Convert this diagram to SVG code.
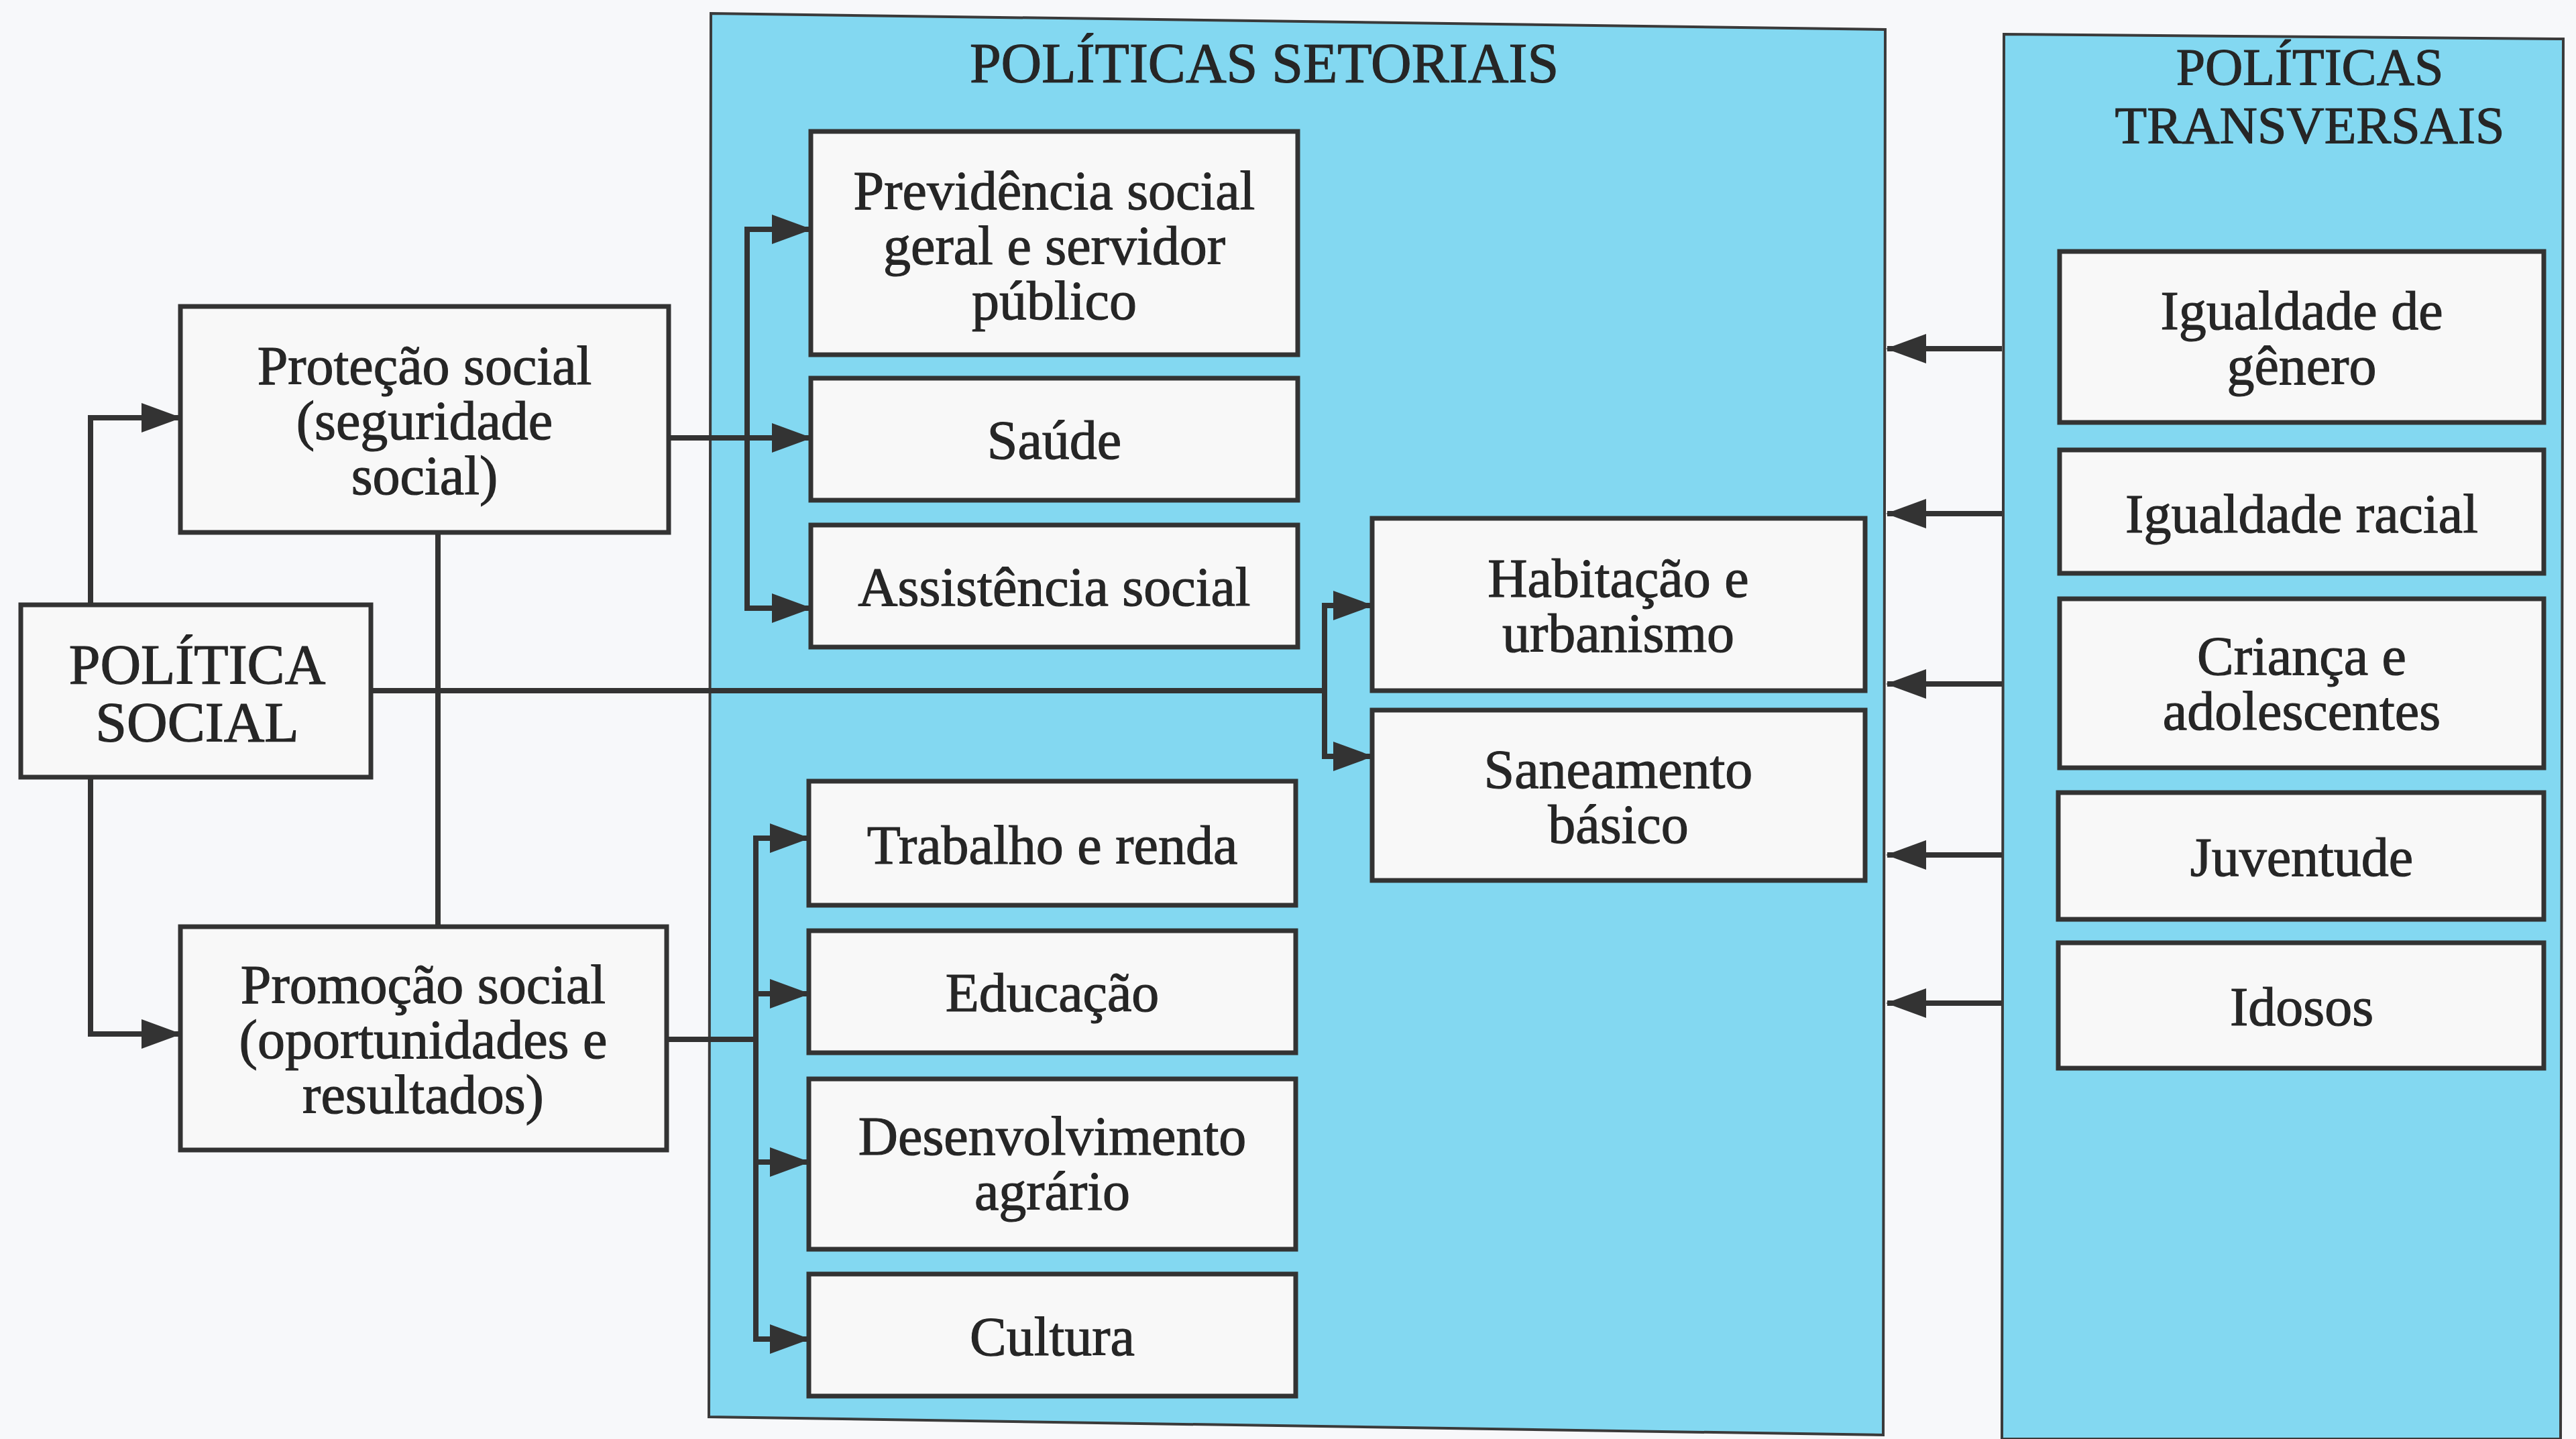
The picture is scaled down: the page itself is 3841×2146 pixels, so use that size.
<svg xmlns="http://www.w3.org/2000/svg" width="3841" height="2146" viewBox="0 0 3841 2146">
<style>
.box{fill:#f8f8f8;stroke:#333;stroke-width:7}
.panel{fill:#83d8f1;stroke:#3a3a3a;stroke-width:4}
.t{font-family:"Liberation Serif","Times New Roman",serif;font-size:82px;fill:#262626;stroke:#262626;stroke-width:1.2;text-anchor:middle}
.h{font-family:"Liberation Serif","Times New Roman",serif;font-size:84px;fill:#262626;stroke:#262626;stroke-width:1.2;text-anchor:middle}
.h2{font-family:"Liberation Serif","Times New Roman",serif;font-size:78px;fill:#262626;stroke:#262626;stroke-width:1.2;text-anchor:middle}
.c{fill:none;stroke:#333;stroke-width:8}
</style>
<defs>
<marker id="ah" viewBox="0 0 60 44" refX="58" refY="22" markerWidth="60" markerHeight="44" markerUnits="userSpaceOnUse" orient="auto">
<path d="M0,0 L60,22 L0,44 z" fill="#333"/>
</marker>
</defs>
<rect width="3841" height="2146" fill="#f7f8fa"/>
<g id="panel-setoriais">
<polygon class="panel" points="1060,20 2811,44 2808,2140 1057,2113"/>
<text class="h" x="1885" y="123">POLÍTICAS SETORIAIS</text>
</g>
<g id="panel-transversais">
<polygon class="panel" points="2988,51 3822,58 3818,2146 2985,2146"/>
<text class="h2" x="3444" y="126">POLÍTICAS</text>
<text class="h2" x="3444" y="213">TRANSVERSAIS</text>
</g>
<g id="connectors">
<path class="c" d="M135,902 V623 H269" marker-end="url(#ah)"/>
<path class="c" d="M135,1159 V1542 H269" marker-end="url(#ah)"/>
<path class="c" d="M653,794 V1382"/>
<path class="c" d="M553,1030 H1975"/>
<path class="c" d="M1975,1030 V903 H2046" marker-end="url(#ah)"/>
<path class="c" d="M1975,1030 V1128 H2046" marker-end="url(#ah)"/>
<path class="c" d="M997,653 H1209" marker-end="url(#ah)"/>
<path class="c" d="M1114,653 V342 H1209" marker-end="url(#ah)"/>
<path class="c" d="M1114,653 V907 H1209" marker-end="url(#ah)"/>
<path class="c" d="M994,1550 H1127"/>
<path class="c" d="M1127,1550 V1250 H1206" marker-end="url(#ah)"/>
<path class="c" d="M1127,1482 H1206" marker-end="url(#ah)"/>
<path class="c" d="M1127,1550 V1733 H1206" marker-end="url(#ah)"/>
<path class="c" d="M1127,1733 V1997 H1206" marker-end="url(#ah)"/>
<path class="c" d="M2985,520 H2814" marker-end="url(#ah)"/>
<path class="c" d="M2985,766 H2814" marker-end="url(#ah)"/>
<path class="c" d="M2985,1020 H2814" marker-end="url(#ah)"/>
<path class="c" d="M2985,1275 H2814" marker-end="url(#ah)"/>
<path class="c" d="M2985,1496 H2814" marker-end="url(#ah)"/>
</g>
<g id="politica-social">
<rect class="box" x="31" y="902" width="522" height="257"/>
<text class="h" x="294" y="1020">POLÍTICA</text>
<text class="h" x="294" y="1106">SOCIAL</text>
</g>
<g id="protecao-social">
<rect class="box" x="269" y="457" width="728" height="337"/>
<text class="t" x="633" y="573">Proteção social</text>
<text class="t" x="633" y="655">(seguridade</text>
<text class="t" x="633" y="737">social)</text>
</g>
<g id="promocao-social">
<rect class="box" x="269" y="1382" width="725" height="333"/>
<text class="t" x="631" y="1496">Promoção social</text>
<text class="t" x="631" y="1578">(oportunidades e</text>
<text class="t" x="631" y="1660">resultados)</text>
</g>
<g id="previdencia">
<rect class="box" x="1209" y="196" width="726" height="333"/>
<text class="t" x="1572" y="312">Previdência social</text>
<text class="t" x="1572" y="394">geral e servidor</text>
<text class="t" x="1572" y="476">público</text>
</g>
<g id="saude">
<rect class="box" x="1209" y="564" width="726" height="182"/>
<text class="t" x="1572" y="684">Saúde</text>
</g>
<g id="assistencia">
<rect class="box" x="1209" y="783" width="726" height="182"/>
<text class="t" x="1572" y="903">Assistência social</text>
</g>
<g id="trabalho">
<rect class="box" x="1206" y="1165" width="726" height="185"/>
<text class="t" x="1569" y="1288">Trabalho e renda</text>
</g>
<g id="educacao">
<rect class="box" x="1206" y="1388" width="726" height="182"/>
<text class="t" x="1569" y="1508">Educação</text>
</g>
<g id="desenvolvimento">
<rect class="box" x="1206" y="1609" width="726" height="254"/>
<text class="t" x="1569" y="1722">Desenvolvimento</text>
<text class="t" x="1569" y="1804">agrário</text>
</g>
<g id="cultura">
<rect class="box" x="1206" y="1900" width="726" height="182"/>
<text class="t" x="1569" y="2021">Cultura</text>
</g>
<g id="habitacao">
<rect class="box" x="2046" y="773" width="735" height="257"/>
<text class="t" x="2413" y="890">Habitação e</text>
<text class="t" x="2413" y="972">urbanismo</text>
</g>
<g id="saneamento">
<rect class="box" x="2046" y="1059" width="735" height="254"/>
<text class="t" x="2413" y="1175">Saneamento</text>
<text class="t" x="2413" y="1257">básico</text>
</g>
<g id="genero">
<rect class="box" x="3071" y="375" width="722" height="255"/>
<text class="t" x="3432" y="491">Igualdade de</text>
<text class="t" x="3432" y="573">gênero</text>
</g>
<g id="racial">
<rect class="box" x="3071" y="671" width="722" height="184"/>
<text class="t" x="3432" y="794">Igualdade racial</text>
</g>
<g id="crianca">
<rect class="box" x="3071" y="893" width="722" height="252"/>
<text class="t" x="3432" y="1006">Criança e</text>
<text class="t" x="3432" y="1088">adolescentes</text>
</g>
<g id="juventude">
<rect class="box" x="3069" y="1182" width="724" height="189"/>
<text class="t" x="3432" y="1306">Juventude</text>
</g>
<g id="idosos">
<rect class="box" x="3069" y="1406" width="724" height="187"/>
<text class="t" x="3432" y="1529">Idosos</text>
</g>
</svg>
